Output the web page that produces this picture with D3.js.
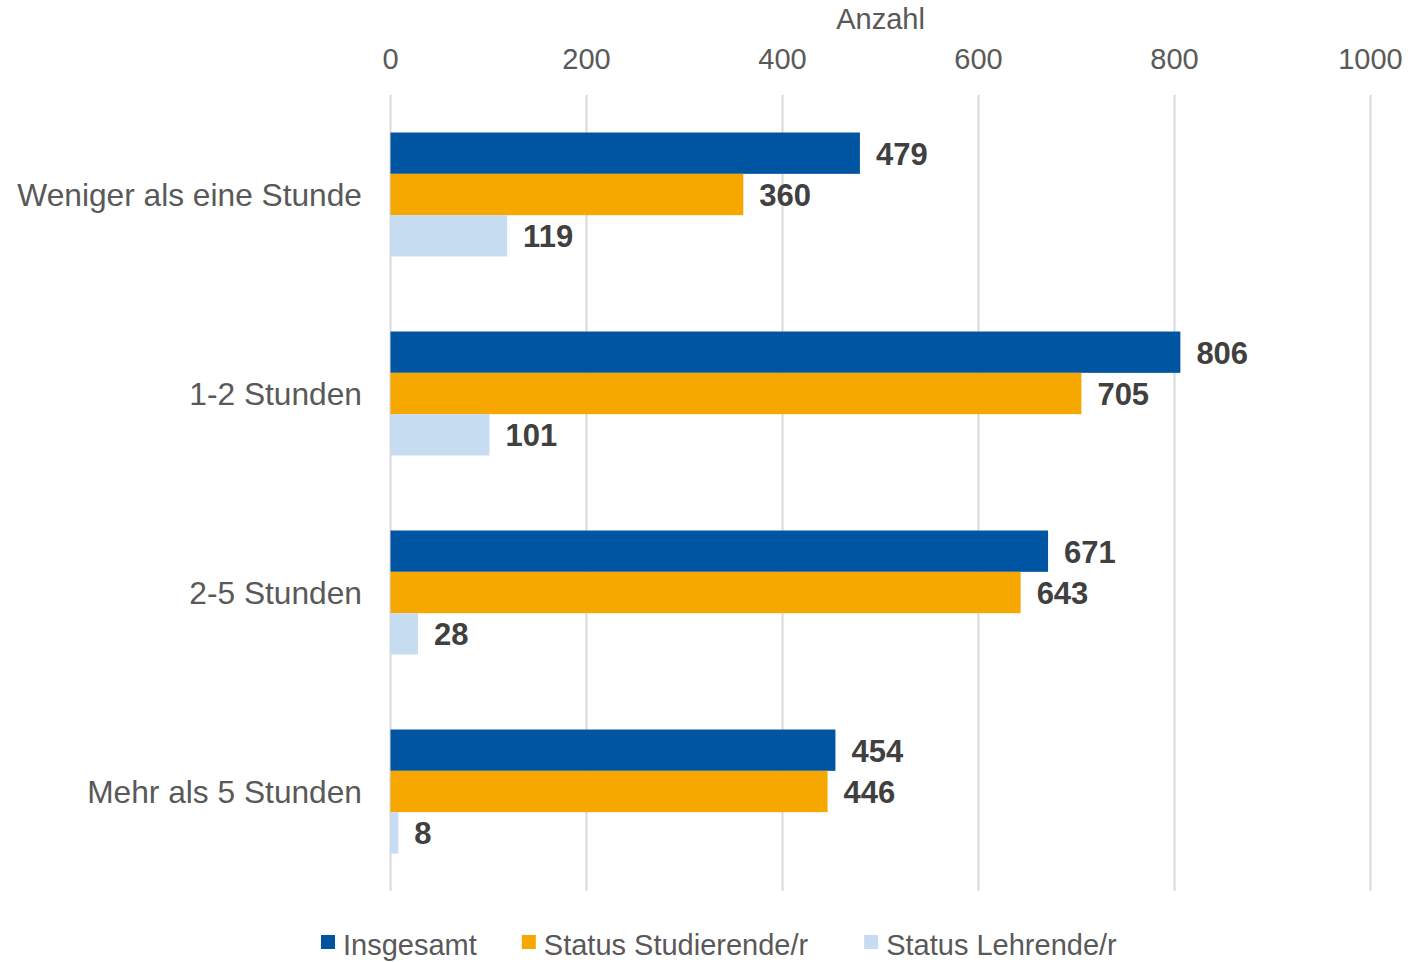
<!DOCTYPE html>
<html>
<head>
  <meta charset="utf-8">
  <title>Anzahl nach Stunden</title>
  <style>
    body {
      margin: 0;
      padding: 0;
      background: #ffffff;
      font-family: 'Liberation Sans', Arial, sans-serif;
    }
    .grid line {
      stroke: #d9d9d9;
      stroke-width: 2;
    }
    .tick-label {
      fill: #595959;
      font-size: 29px;
      text-anchor: middle;
    }
    .cat-label {
      fill: #595959;
      font-size: 31.7px;
      text-anchor: end;
    }
    .value-label {
      fill: #404040;
      font-size: 31px;
      font-weight: bold;
    }
    .legend text {
      fill: #595959;
      font-size: 29px;
    }
  </style>
</head>
<body>
  <div id="chart"></div>

  <script src="https://d3js.org/d3.v7.min.js"></script>
  <script>

  // categories (top to bottom)
  var categories = ["Weniger als eine Stunde", "1-2 Stunden", "2-5 Stunden", "Mehr als 5 Stunden"]

  // series names and values
  var seriesNames = ["Insgesamt", "Status Studierende/r", "Status Lehrende/r"]
  var insgesamt = [479, 806, 671, 454]
  var studierende = [360, 705, 643, 446]
  var lehrende = [119, 101, 28, 8]

  var seriesColors = ["#0055a2", "#f6a800", "#c6dcf0"]

  var xTicks = [0, 200, 400, 600, 800, 1000]
  var axisTitle = "Anzahl"

  var width = 1412,
      height = 962

  var margin = { top: 95, right: 42, bottom: 71, left: 390 }

  var svg = d3.select("#chart")
    .append("svg")
    .attr("width", width)
    .attr("height", height)

  // x scale for counts
  var x = d3.scaleLinear()
    .domain([0, 1000])
    .range([margin.left + 0.5, width - margin.right + 0.5])

  // band scale for the groups
  var y0 = d3.scaleBand()
    .domain(categories)
    .range([margin.top, height - margin.bottom])
    .paddingInner(0.377)
    .paddingOuter(0.377 / 2)

  // band scale for the bars inside a group
  var y1 = d3.scaleBand()
    .domain(seriesNames)
    .range([0, y0.bandwidth()])

  // build rows from the arrays
  var allSeries = [insgesamt, studierende, lehrende]
  var rows = []
  categories.forEach(function (c, i) {
    seriesNames.forEach(function (s, j) {
      rows.push({ category: c, series: s, value: allSeries[j][i], color: seriesColors[j] })
    })
  })

  // vertical gridlines
  svg.append("g")
    .attr("class", "grid")
    .selectAll("line")
    .data(xTicks)
    .enter().append("line")
    .attr("x1", function (d) { return x(d) })
    .attr("x2", function (d) { return x(d) })
    .attr("y1", margin.top)
    .attr("y2", height - margin.bottom)

  // tick labels on top
  svg.append("g")
    .selectAll("text")
    .data(xTicks)
    .enter().append("text")
    .attr("class", "tick-label")
    .attr("x", function (d) { return x(d) })
    .attr("y", 69)
    .text(function (d) { return d })

  // axis title
  svg.append("text")
    .attr("class", "tick-label")
    .attr("x", (x.range()[0] + x.range()[1]) / 2)
    .attr("y", 29)
    .text(axisTitle)

  // bars
  svg.append("g")
    .selectAll("rect")
    .data(rows)
    .enter().append("rect")
    .attr("x", x(0))
    .attr("y", function (d) { return y0(d.category) + y1(d.series) })
    .attr("width", function (d) { return x(d.value) - x(0) })
    .attr("height", y1.bandwidth())
    .attr("fill", function (d) { return d.color })

  // value labels
  svg.append("g")
    .selectAll("text")
    .data(rows)
    .enter().append("text")
    .attr("class", "value-label")
    .attr("x", function (d) { return x(d.value) + 16 })
    .attr("y", function (d) { return y0(d.category) + y1(d.series) + y1.bandwidth() / 2 + 11.5 })
    .text(function (d) { return d.value })

  // category labels
  svg.append("g")
    .selectAll("text")
    .data(categories)
    .enter().append("text")
    .attr("class", "cat-label")
    .attr("x", margin.left - 28)
    .attr("y", function (d) { return y0(d) + y0.bandwidth() / 2 + 11 })
    .text(function (d) { return d })

  // legend at the bottom, laid out by measured text widths
  var legend = svg.append("g")
    .attr("class", "legend")
    .attr("transform", "translate(321,0)")

  var items = legend.selectAll("g")
    .data(seriesNames)
    .enter().append("g")

  items.append("rect")
    .attr("width", 14)
    .attr("height", 14)
    .attr("y", 935)
    .attr("fill", function (d, i) { return seriesColors[i] })

  items.append("text")
    .attr("x", 22)
    .attr("y", 955)
    .text(function (d) { return d })

  var gaps = [45, 56, 0]
  var offset = 0
  items.each(function (d, i) {
    var g = d3.select(this)
    var w = 22 + g.select("text").node().getComputedTextLength()
    g.attr("transform", "translate(" + offset + ",0)")
    offset += w + gaps[i]
  })

  </script>
</body>
</html>
